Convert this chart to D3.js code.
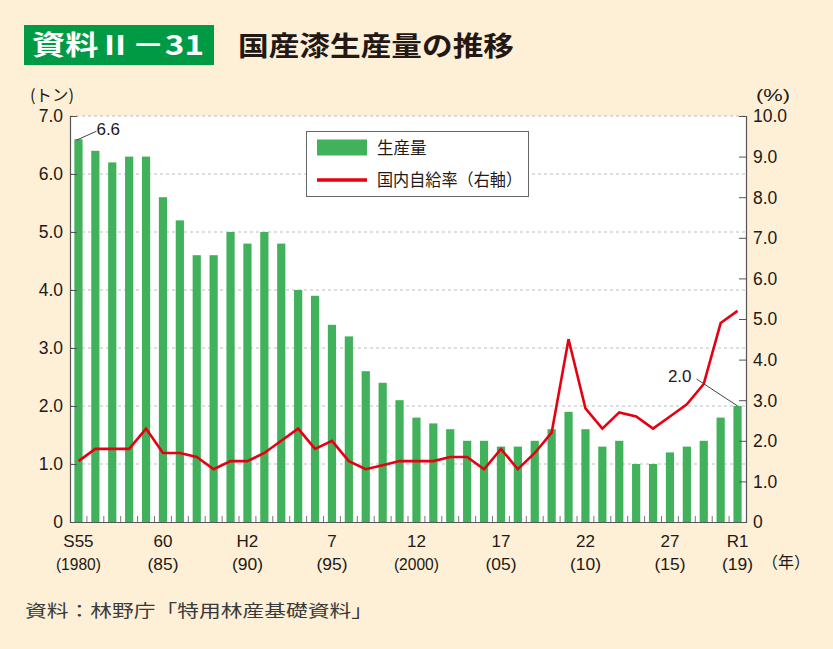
<!DOCTYPE html>
<html><head><meta charset="utf-8">
<script src="https://cdn.jsdelivr.net/npm/d3@7"></script>
<style>
html,body{margin:0;padding:0;background:#fdf0d6;}
svg{display:block;}
text{font-family:"Liberation Sans","Noto Sans CJK JP",sans-serif;}
.jp{font-family:"Noto Sans CJK JP",sans-serif;}
</style></head>
<body>
<script>
const years = d3.range(1980, 2020);
const production = [6.6,6.4,6.2,6.3,6.3,5.6,5.2,4.6,4.6,5.0,4.8,5.0,4.8,4.0,3.9,3.4,3.2,2.6,2.4,2.1,1.8,1.7,1.6,1.4,1.4,1.3,1.3,1.4,1.6,1.9,1.6,1.3,1.4,1.0,1.0,1.2,1.3,1.4,1.8,2.0];
const selfRate = [1.5,1.8,1.8,1.8,2.3,1.7,1.7,1.6,1.3,1.5,1.5,1.7,2.0,2.3,1.8,2.0,1.5,1.3,1.4,1.5,1.5,1.5,1.6,1.6,1.3,1.8,1.3,1.7,2.2,4.5,2.8,2.3,2.7,2.6,2.3,2.6,2.9,3.4,4.9,5.2];
const xLabelYears = [1980,1985,1990,1995,2000,2005,2010,2015,2019];
const xLabels1 = ["S55","60","H2","7","12","17","22","27","R1"];
const xLabels2 = ["(1980)","(85)","(90)","(95)","(2000)","(05)","(10)","(15)","(19)"];
const leftTicks = [0,1,2,3,4,5,6,7];
const rightTicks = [0,1,2,3,4,5,6,7,8,9,10];

const W = 833, H = 649;
const m = {l:70, r:746, t:116, b:522};
const svg = d3.select("body").append("svg").attr("width", W).attr("height", H);
svg.append("rect").attr("width", W).attr("height", H).attr("fill", "#fdf0d6");

const x = d3.scaleBand().domain(years).range([m.l, m.r]).paddingInner(0).paddingOuter(0);
const yL = d3.scaleLinear().domain([0,7]).range([m.b, m.t]);
const yR = d3.scaleLinear().domain([0,10]).range([m.b, m.t]);

// plot background
svg.append("rect").attr("x", m.l).attr("y", m.t).attr("width", m.r - m.l).attr("height", m.b - m.t).attr("fill", "#ffffff");

// gridlines
svg.append("g").selectAll("line").data(leftTicks.filter(d => d > 0)).join("line")
  .attr("x1", m.l).attr("x2", m.r).attr("y1", d => yL(d)).attr("y2", d => yL(d))
  .attr("stroke", "#bdbdbd").attr("stroke-width", 1).attr("stroke-dasharray", "3,3");

// bars
const bw = 8.2;
svg.append("g").selectAll("rect").data(years).join("rect")
  .attr("x", (d) => x(d) + x.bandwidth()/2 - bw/2)
  .attr("y", (d,i) => yL(production[i]))
  .attr("width", bw)
  .attr("height", (d,i) => m.b - yL(production[i]))
  .attr("fill", "#42b15c");

// line
const line = d3.line().x((d,i) => x(years[i]) + x.bandwidth()/2).y(d => yR(d));
svg.append("path").datum(selfRate).attr("d", line).attr("fill", "none")
  .attr("stroke", "#e60012").attr("stroke-width", 2.6).attr("stroke-linejoin", "miter");

// axes
const axisColor = "#555";
const gL = svg.append("g").attr("transform", `translate(${m.l},0)`)
  .call(d3.axisRight(yL).tickValues(leftTicks).tickSize(7).tickFormat(""));
gL.select(".domain").attr("stroke", axisColor).attr("stroke-width", 1.2);
gL.selectAll(".tick line").attr("stroke", axisColor);
svg.append("g").selectAll("text").data(leftTicks).join("text")
  .attr("x", 63).attr("y", d => yL(d)).attr("dy", "0.36em").attr("text-anchor", "end")
  .attr("font-size", 17.5).attr("fill", "#231815").text(d => d === 0 ? "0" : d.toFixed(1));

const gR = svg.append("g").attr("transform", `translate(${m.r},0)`)
  .call(d3.axisLeft(yR).tickValues(rightTicks).tickSize(7).tickFormat(""));
gR.select(".domain").attr("stroke", axisColor).attr("stroke-width", 1.2);
gR.selectAll(".tick line").attr("stroke", axisColor);
svg.append("g").selectAll("text").data(rightTicks).join("text")
  .attr("x", 753).attr("y", d => yR(d)).attr("dy", "0.36em").attr("text-anchor", "start")
  .attr("font-size", 17.5).attr("fill", "#231815").text(d => d === 0 ? "0" : d.toFixed(1));

// x axis
const boundaries = years.slice(1).map(d => x(d));
const gX = svg.append("g").attr("transform", `translate(0,${m.b})`)
  .call(d3.axisTop(x).tickValues([]).tickSizeOuter(0));
gX.select(".domain").attr("stroke", axisColor).attr("stroke-width", 1.2);
svg.append("g").selectAll("line").data(boundaries).join("line")
  .attr("x1", d => d).attr("x2", d => d).attr("y1", m.b).attr("y2", m.b - 6)
  .attr("stroke", "#777").attr("stroke-width", 1);

svg.append("g").selectAll("text").data(xLabelYears).join("text")
  .attr("x", d => x(d) + x.bandwidth()/2).attr("y", 547).attr("text-anchor", "middle")
  .attr("font-size", 17).attr("fill", "#231815").text((d,i) => xLabels1[i]);
svg.append("g").selectAll("text").data(xLabelYears).join("text")
  .attr("x", d => x(d) + x.bandwidth()/2).attr("y", 570).attr("text-anchor", "middle")
  .attr("font-size", 17).attr("fill", "#231815")
  .attr("textLength", (d,i) => 17 + (xLabels2[i].length - 2) * 7).attr("lengthAdjust", "spacingAndGlyphs")
  .text((d,i) => xLabels2[i]);
svg.append("text").attr("class","jp").attr("x", 786).attr("y", 568).attr("text-anchor", "middle")
  .attr("font-size", 16).attr("fill", "#231815").text("（年）");

// unit labels
svg.append("text").attr("class","jp").attr("x", 30).attr("y", 101).attr("font-size", 16).attr("fill", "#231815")
  .attr("textLength", 44).attr("lengthAdjust", "spacingAndGlyphs").text("(トン)");
svg.append("text").attr("x", 773).attr("y", 101).attr("text-anchor", "middle").attr("font-size", 16).attr("fill", "#231815")
  .attr("textLength", 34).attr("lengthAdjust", "spacingAndGlyphs").text("(%)");

// annotations
const i0 = 0, iN = years.length - 1;
const ax0 = x(years[i0]) + x.bandwidth()/2, ay0 = yL(production[i0]);
svg.append("line").attr("x1", ax0 - 2).attr("y1", ay0 + 1).attr("x2", ax0 + 18).attr("y2", ay0 - 8)
  .attr("stroke", "#444").attr("stroke-width", 1);
svg.append("text").attr("x", ax0 + 18).attr("y", ay0 - 4).attr("font-size", 17).attr("fill", "#231815")
  .text(production[i0].toFixed(1));
const axN = x(years[iN]) + x.bandwidth()/2, ayN = yL(production[iN]);
svg.append("line").attr("x1", axN).attr("y1", ayN).attr("x2", axN - 41).attr("y2", ayN - 27)
  .attr("stroke", "#444").attr("stroke-width", 1);
svg.append("text").attr("x", axN - 46).attr("y", ayN - 24).attr("text-anchor", "end").attr("font-size", 17).attr("fill", "#231815")
  .text(production[iN].toFixed(1));

// legend
const lg = svg.append("g");
lg.append("rect").attr("x", 306.5).attr("y", 131.5).attr("width", 222).attr("height", 65)
  .attr("fill", "#fff").attr("stroke", "#666").attr("stroke-width", 1);
lg.append("rect").attr("x", 317).attr("y", 139.5).attr("width", 50).attr("height", 16).attr("fill", "#42b15c");
lg.append("line").attr("x1", 317).attr("x2", 367).attr("y1", 180).attr("y2", 180).attr("stroke", "#e60012").attr("stroke-width", 3.5);
lg.append("text").attr("class","jp").attr("x", 377).attr("y", 154).attr("font-size", 16.5).attr("fill", "#231815").text("生産量");
lg.append("text").attr("class","jp").attr("x", 377).attr("y", 186).attr("font-size", 16.5).attr("fill", "#231815")
  .attr("textLength", 145).attr("lengthAdjust", "spacingAndGlyphs").text("国内自給率（右軸）");

// title
svg.append("rect").attr("x", 24).attr("y", 25).attr("width", 190).attr("height", 40).attr("fill", "#009a44");
svg.append("text").attr("class","jp").attr("x", 32).attr("y", 55).attr("font-size", 27).attr("font-weight", "bold")
  .attr("fill", "#fff").attr("textLength", 172).attr("lengthAdjust", "spacingAndGlyphs").text("資料Ⅱ－31");
svg.append("text").attr("class","jp").attr("x", 238).attr("y", 56).attr("font-size", 27).attr("font-weight", "bold")
  .attr("fill", "#231815").attr("textLength", 276).attr("lengthAdjust", "spacingAndGlyphs").text("国産漆生産量の推移");

// source
svg.append("text").attr("class","jp").attr("x", 25).attr("y", 617).attr("font-size", 17).attr("fill", "#3a3a3a")
  .attr("textLength", 348).attr("lengthAdjust", "spacingAndGlyphs").text("資料：林野庁「特用林産基礎資料」");
</script>
</body></html>
